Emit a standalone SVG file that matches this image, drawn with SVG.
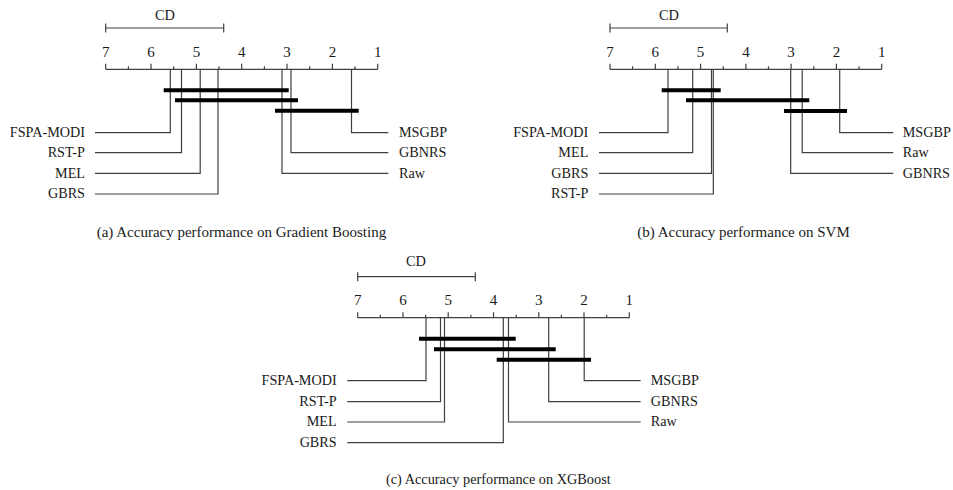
<svg xmlns="http://www.w3.org/2000/svg" width="953" height="490" viewBox="0 0 953 490">
<style>
text{font-family:"Liberation Serif","Times New Roman",serif;fill:#1a1a1a}
.tk{font-size:15px;text-anchor:middle}
.cd{font-size:14.4px;text-anchor:middle}
.ll{font-size:14.2px;text-anchor:end}
.rl{font-size:14.2px;text-anchor:start}
.cap{font-size:15px}
.capc{font-size:14.3px}
.ax{stroke:#404040;stroke-width:1.2;fill:none}
.ln{stroke:#404040;stroke-width:1.2;fill:none}
.bar{stroke:#000;stroke-width:4;fill:none}
</style>
<rect width="953" height="490" fill="#fff"/>

<!-- Panel (a) -->
<g id="panel-a">
  <g id="a-cd">
    <text class="cd" x="165" y="20">CD</text>
    <path class="ax" d="M105.7 28H223.7M105.7 23.5V32.5M223.7 23.5V32.5"/>
  </g>
  <g id="a-axis">
    <path class="ax" d="M105.7 69.3H377.7"/>
    <path class="ax" d="M105.7 69.3v-5.5M151 69.3v-5.5M196.4 69.3v-5.5M241.7 69.3v-5.5M287 69.3v-5.5M332.4 69.3v-5.5M377.7 69.3v-5.5M128.4 69.3v-3M173.7 69.3v-3M219 69.3v-3M264.4 69.3v-3M309.7 69.3v-3M355 69.3v-3"/>
    <text class="tk" x="105.7" y="57">7</text><text class="tk" x="151" y="57">6</text><text class="tk" x="196.4" y="57">5</text><text class="tk" x="241.7" y="57">4</text><text class="tk" x="287" y="57">3</text><text class="tk" x="332.4" y="57">2</text><text class="tk" x="377.7" y="57">1</text>
  </g>
  <g id="a-FSPA-MODI"><text class="ll" x="85" y="137">FSPA-MODI</text></g>
  <g id="a-RST-P"><text class="ll" x="85" y="157">RST-P</text></g>
  <g id="a-MEL"><text class="ll" x="85" y="177.6">MEL</text></g>
  <g id="a-GBRS"><text class="ll" x="85" y="198.3">GBRS</text></g>
  <g id="a-MSGBP"><text class="rl" x="399" y="137">MSGBP</text></g>
  <g id="a-GBNRS"><text class="rl" x="399" y="157">GBNRS</text></g>
  <g id="a-Raw"><text class="rl" x="399" y="177.6">Raw</text></g>
  <g id="a-connectors">
    <path class="ln" d="M170.3 69.3V132.7H95"/>
    <path class="ln" d="M181.5 69.3V152.7H95"/>
    <path class="ln" d="M200.2 69.3V173.3H95"/>
    <path class="ln" d="M218 69.3V194H95"/>
    <path class="ln" d="M351.5 69.3V132.7H388.3"/>
    <path class="ln" d="M291 69.3V152.7H388.3"/>
    <path class="ln" d="M282 69.3V173.3H388.3"/>
    <path class="bar" d="M163.7 90.3H288.7M175 100.3H298M275 110.7H358.7"/>
  </g>
  <text class="cap" x="96.7" y="236.5">(a) Accuracy performance on Gradient Boosting</text>
</g>

<!-- Panel (b) -->
<g id="panel-b">
  <g id="b-cd">
    <text class="cd" x="669" y="20">CD</text>
    <path class="ax" d="M610 28H727.3M610 23.5V32.5M727.3 23.5V32.5"/>
  </g>
  <g id="b-axis">
    <path class="ax" d="M610 69.3H881.7"/>
    <path class="ax" d="M610 69.3v-5.5M655.3 69.3v-5.5M700.6 69.3v-5.5M745.9 69.3v-5.5M791.1 69.3v-5.5M836.4 69.3v-5.5M881.7 69.3v-5.5M632.6 69.3v-3M677.9 69.3v-3M723.2 69.3v-3M768.5 69.3v-3M813.8 69.3v-3M859.1 69.3v-3"/>
    <text class="tk" x="610" y="57">7</text><text class="tk" x="655.3" y="57">6</text><text class="tk" x="700.6" y="57">5</text><text class="tk" x="745.9" y="57">4</text><text class="tk" x="791.1" y="57">3</text><text class="tk" x="836.4" y="57">2</text><text class="tk" x="881.7" y="57">1</text>
  </g>
  <g id="b-FSPA-MODI"><text class="ll" x="588.3" y="137">FSPA-MODI</text></g>
  <g id="b-MEL"><text class="ll" x="588.3" y="157">MEL</text></g>
  <g id="b-GBRS"><text class="ll" x="588.3" y="177.6">GBRS</text></g>
  <g id="b-RST-P"><text class="ll" x="588.3" y="198.3">RST-P</text></g>
  <g id="b-MSGBP"><text class="rl" x="902.7" y="137">MSGBP</text></g>
  <g id="b-Raw"><text class="rl" x="902.7" y="157">Raw</text></g>
  <g id="b-GBNRS"><text class="rl" x="902.7" y="177.6">GBNRS</text></g>
  <g id="b-connectors">
    <path class="ln" d="M668 69.3V132.7H599"/>
    <path class="ln" d="M692.7 69.3V152.7H599"/>
    <path class="ln" d="M711.5 69.3V173.3H599"/>
    <path class="ln" d="M713.3 69.3V194H599"/>
    <path class="ln" d="M839.7 69.3V132.7H893.3"/>
    <path class="ln" d="M802.2 69.3V152.7H893.3"/>
    <path class="ln" d="M790.7 69.3V173.3H893.3"/>
    <path class="bar" d="M661.7 90.3H720.7M686 100.3H809.3M784 111H847"/>
  </g>
  <text class="cap" x="637.3" y="236.5">(b) Accuracy performance on SVM</text>
</g>

<!-- Panel (c) -->
<g id="panel-c">
  <g id="c-cd">
    <text class="cd" x="416" y="266">CD</text>
    <path class="ax" d="M357.7 276.7H475.3M357.7 272.2V281.2M475.3 272.2V281.2"/>
  </g>
  <g id="c-axis">
    <path class="ax" d="M357.7 317.7H629.3"/>
    <path class="ax" d="M357.7 317.7v-5.5M403 317.7v-5.5M448.2 317.7v-5.5M493.5 317.7v-5.5M538.8 317.7v-5.5M584 317.7v-5.5M629.3 317.7v-5.5M380.3 317.7v-3M425.6 317.7v-3M470.9 317.7v-3M516.2 317.7v-3M561.4 317.7v-3M606.7 317.7v-3"/>
    <text class="tk" x="357.7" y="305">7</text><text class="tk" x="403" y="305">6</text><text class="tk" x="448.2" y="305">5</text><text class="tk" x="493.5" y="305">4</text><text class="tk" x="538.8" y="305">3</text><text class="tk" x="584" y="305">2</text><text class="tk" x="629.3" y="305">1</text>
  </g>
  <g id="c-FSPA-MODI"><text class="ll" x="336.7" y="385">FSPA-MODI</text></g>
  <g id="c-RST-P"><text class="ll" x="336.7" y="406">RST-P</text></g>
  <g id="c-MEL"><text class="ll" x="336.7" y="426.3">MEL</text></g>
  <g id="c-GBRS"><text class="ll" x="336.7" y="447">GBRS</text></g>
  <g id="c-MSGBP"><text class="rl" x="650.7" y="385">MSGBP</text></g>
  <g id="c-GBNRS"><text class="rl" x="650.7" y="406">GBNRS</text></g>
  <g id="c-Raw"><text class="rl" x="650.7" y="426.3">Raw</text></g>
  <g id="c-connectors">
    <path class="ln" d="M426 317.7V380.7H347.3"/>
    <path class="ln" d="M440.5 317.7V401.7H347.3"/>
    <path class="ln" d="M444.5 317.7V422H347.3"/>
    <path class="ln" d="M503.3 317.7V442.7H347.3"/>
    <path class="ln" d="M584.2 317.7V380.7H640.7"/>
    <path class="ln" d="M548.7 317.7V401.7H640.7"/>
    <path class="ln" d="M508.5 317.7V422H640.7"/>
    <path class="bar" d="M419 338.7H515.7M434 349.3H555.7M496.7 359.7H591"/>
  </g>
  <text class="capc" x="386" y="483.5">(c) Accuracy performance on XGBoost</text>
</g>
</svg>
